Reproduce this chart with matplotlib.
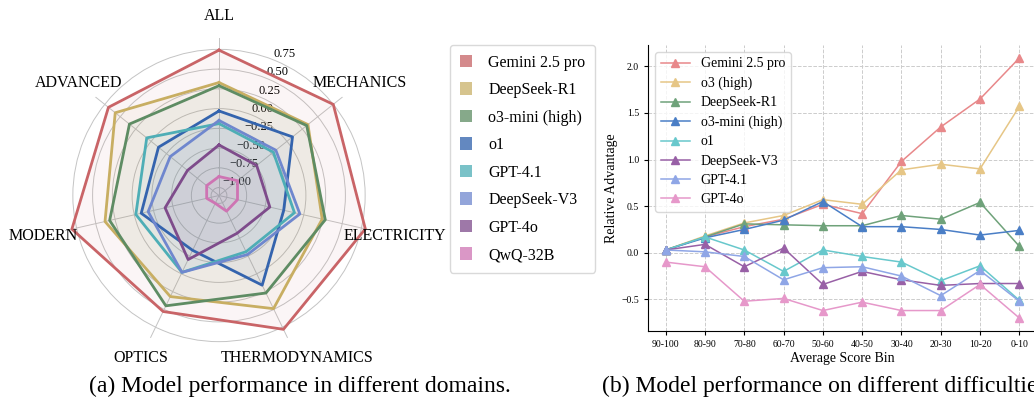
import numpy as np
import matplotlib
matplotlib.use("Agg")
import matplotlib.pyplot as plt
from matplotlib.patches import Patch

plt.rcParams['font.family'] = ['Liberation Serif', 'DejaVu Serif']
plt.rcParams['axes.unicode_minus'] = True

# ---------------- Radar data ----------------
domains = ["ALL", "MECHANICS", "ELECTRICITY", "THERMODYNAMICS", "OPTICS", "MODERN", "ADVANCED"]
radar_models = ["Gemini 2.5 pro", "DeepSeek-R1", "o3-mini (high)", "o1", "GPT-4.1", "DeepSeek-V3", "GPT-4o", "QwQ-32B"]
gemini_radar = [0.74, 0.75, 0.80, 0.78, 0.53, 0.81, 0.69]
r1_radar = [0.33, 0.34, 0.24, 0.49, 0.32, 0.38, 0.58]
o3mini_radar = [0.29, 0.32, 0.28, 0.27, 0.45, 0.32, 0.35]
o1_radar = [-0.03, 0.09, -0.26, 0.16, -0.33, -0.09, -0.12]
gpt41_radar = [-0.19, -0.22, -0.12, -0.31, -0.02, -0.02, 0.07]
v3_radar = [-0.15, -0.18, -0.05, -0.27, -0.02, -0.18, -0.31]
gpt4o_radar = [-0.46, -0.49, -0.44, -0.57, -0.20, -0.40, -0.59]
qwq_radar = [-0.86, -0.80, -0.86, -0.88, -0.99, -0.94, -0.90]
radar_values = [gemini_radar, r1_radar, o3mini_radar, o1_radar, gpt41_radar, v3_radar, gpt4o_radar, qwq_radar]
radar_ticks = [-1.00, -0.75, -0.50, -0.25, 0.00, 0.25, 0.50, 0.75]

radar_line_colors = ["#C96467", "#C8AE62", "#5E8C63", "#3464AE", "#4EAEB6", "#6F87CE", "#7E4B8B", "#CE74B3"]
radar_patch_colors = ["#D48A8C", "#D6C48E", "#86A98A", "#6388C0", "#7AC2C8", "#93A5DA", "#9E78A8", "#DA97C6"]

# ---------------- Line chart data ----------------
bins = ["90-100", "80-90", "70-80", "60-70", "50-60", "40-50", "30-40", "20-30", "10-20", "0-10"]
line_models = ["Gemini 2.5 pro", "o3 (high)", "DeepSeek-R1", "o3-mini (high)", "o1", "DeepSeek-V3", "GPT-4.1", "GPT-4o"]
gemini_adv = [0.03, 0.17, 0.28, 0.36, 0.52, 0.42, 0.98, 1.35, 1.65, 2.09]
o3_adv = [0.03, 0.18, 0.32, 0.40, 0.57, 0.52, 0.89, 0.95, 0.90, 1.57]
r1_adv = [0.03, 0.17, 0.31, 0.30, 0.29, 0.29, 0.40, 0.36, 0.54, 0.07]
o3mini_adv = [0.03, 0.16, 0.25, 0.35, 0.55, 0.28, 0.28, 0.25, 0.19, 0.24]
o1_adv = [0.03, 0.17, 0.03, -0.20, 0.03, -0.04, -0.10, -0.30, -0.14, -0.51]
v3_adv = [0.03, 0.09, -0.15, 0.05, -0.34, -0.20, -0.29, -0.35, -0.33, -0.33]
gpt41_adv = [0.03, 0.01, -0.04, -0.29, -0.16, -0.15, -0.25, -0.46, -0.19, -0.52]
gpt4o_adv = [-0.10, -0.15, -0.52, -0.49, -0.62, -0.53, -0.62, -0.62, -0.34, -0.70]
line_values = [gemini_adv, o3_adv, r1_adv, o3mini_adv, o1_adv, v3_adv, gpt41_adv, gpt4o_adv]
line_colors = ["#E8888A", "#E6C686", "#6FA27A", "#4A7EC6", "#68C8CC", "#9860A6", "#8FA6E6", "#E698CA"]

W, H = 1034, 407
fig = plt.figure(figsize=(W / 100, H / 100), dpi=100)

# ---------------- Radar ----------------
cx, cy, R = 219, 195.5, 158
ax = fig.add_axes([(cx - R) / W, 1 - (cy + R) / H, 2 * R / W, 2 * R / H], projection='polar')
ax.set_theta_offset(np.pi / 2)
ax.set_theta_direction(-1)
n = len(domains)
angles = np.arange(n) * 2 * np.pi / n
ang_closed = np.concatenate([angles, angles[:1]])
for vals, lc in zip(radar_values, radar_line_colors):
    v = np.concatenate([vals, vals[:1]])
    ax.plot(ang_closed, v, color=lc, lw=2.0, zorder=3)
    ax.fill(ang_closed, v, color=lc, alpha=0.06, zorder=2)
ax.set_ylim(-1.1, 0.9)
ax.set_yticks(radar_ticks)
ax.set_yticklabels([f"{t:.2f}".replace("-", "\u2212") for t in radar_ticks], fontsize=9)
ax.set_rlabel_position(22)
ax.set_xticks(angles)
ax.set_xticklabels([])
ax.spines['polar'].set_visible(False)
ax.grid(True, color="#C4C4C4", lw=0.7)
ax.set_facecolor("none")
r_lab = -1.1 + 2.0 * 180 / 158
for a, name in zip(angles, domains):
    ax.text(a, r_lab, name, ha='center', va='center', fontsize=11.5)

handles = [Patch(facecolor=c, edgecolor='none') for c in radar_patch_colors]
fig.legend(handles, radar_models, loc='upper left', bbox_to_anchor=(450 / W, 1 - 45 / H),
           borderaxespad=0.0,
           fontsize=11.5, handlelength=0.8, handleheight=0.8, labelspacing=0.72,
           handletextpad=1.0, borderpad=0.6, frameon=True, edgecolor="#D0D0D0", fancybox=True)

# ---------------- Line chart ----------------
l, r, t, b = 648, 1037, 45, 331
ax2 = fig.add_axes([l / W, 1 - b / H, (r - l) / W, (b - t) / H])
x = np.arange(len(bins))
for vals, name, c in zip(line_values, line_models, line_colors):
    ax2.plot(x, vals, marker='^', markersize=6, lw=1.1, color=c, label=name)
ax2.set_xticks(x)
ax2.set_xticklabels(bins, fontsize=7)
ax2.tick_params(axis='y', labelsize=7, length=3)
ax2.tick_params(axis='x', length=3)
ax2.set_yticks([-0.5, 0.0, 0.5, 1.0, 1.5, 2.0])
ax2.grid(True, ls='--', color='#CCCCCC', lw=0.7)
ax2.set_axisbelow(True)
ax2.spines['top'].set_visible(False)
ax2.spines['right'].set_visible(False)
ax2.set_xlabel("Average Score Bin", fontsize=10, labelpad=2)
ax2.set_ylabel("Relative Advantage", fontsize=10, labelpad=2)
ax2.legend(loc='upper left', fontsize=10, labelspacing=0.45, edgecolor="#D0D0D0", handlelength=2.1)

# ---------------- Captions ----------------
fig.text(300 / W, 1 - 386 / H, "(a) Model performance in different domains.", ha='center', va='center', fontsize=17)
fig.text(602 / W, 1 - 386 / H, "(b) Model performance on different difficulties", ha='left', va='center', fontsize=17)

fig.savefig("out.png", dpi=100)
